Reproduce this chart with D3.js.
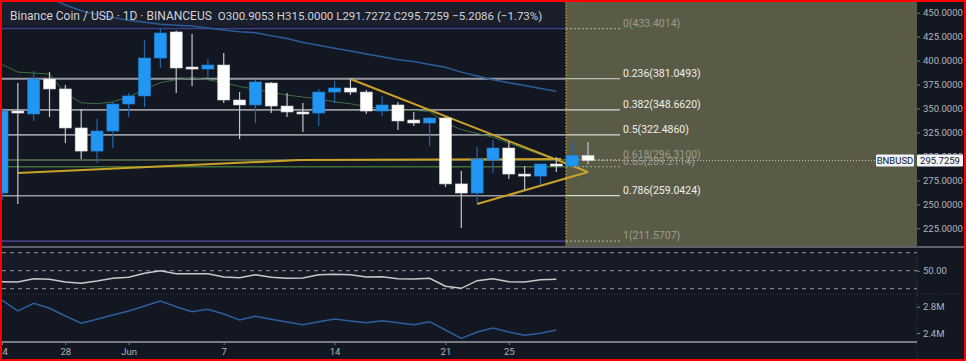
<!DOCTYPE html>
<html>
<head>
<meta charset="utf-8">
<script src="https://cdn.jsdelivr.net/npm/d3@7"></script>
<style>
  body { margin: 0; background: #131722; }
  svg { display: block; font-family: Roboto, "Noto Sans", sans-serif; }
</style>
</head>
<body>
<svg id="chart" width="966" height="361"></svg>
<script>
// daily candles, 24 May .. 30 Jun
var days = ["May 24","May 25","May 26","May 27","May 28","May 29","May 30","May 31",
  "Jun 1","Jun 2","Jun 3","Jun 4","Jun 5","Jun 6","Jun 7","Jun 8","Jun 9","Jun 10",
  "Jun 11","Jun 12","Jun 13","Jun 14","Jun 15","Jun 16","Jun 17","Jun 18","Jun 19",
  "Jun 20","Jun 21","Jun 22","Jun 23","Jun 24","Jun 25","Jun 26","Jun 27","Jun 28",
  "Jun 29","Jun 30"];
var opens  = [261.8,347.4,344.3,380.8,370.4,329.7,305.6,326.5,354.7,363.1,402.7,429.9,393.3,391.2,
  395.4,358.9,353.7,376.6,352.6,346.4,345.3,367.2,371.4,367.2,347.4,353.7,338.0,334.9,340.1,
  271.3,261.8,296.2,308.8,281.6,279.5,292.1,290.0,300.9053];
var highs  = [350.5,376.6,389.1,388.1,374.5,349.5,339.0,356.8,366.2,421.5,433.4,431.5,427.8,401.7,
  407.9,367.2,379.8,377.7,366.2,355.7,370.4,378.7,381.8,369.3,363.1,356.8,346.4,341.1,341.1,
  284.8,309.8,317.1,315.0,290.0,292.1,299.4,315.0,315.0];
var lows   = [254.5,250.3,337.0,341.1,314.0,297.3,293.1,308.8,341.1,351.6,392.3,366.2,373.5,381.8,
  355.7,318.2,334.9,345.3,341.1,325.5,331.8,355.7,364.1,344.3,342.2,327.6,331.8,310.9,268.0,
  225.3,251.4,282.7,276.4,264.9,270.2,283.7,289.0,291.7272];
var closes = [347.4,345.3,380.8,370.4,329.7,305.6,326.5,354.7,363.1,402.7,428.8,392.3,391.2,395.4,
  358.9,353.7,377.7,352.6,346.4,344.3,367.2,371.4,367.2,347.4,353.7,337.0,334.9,340.1,271.3,
  261.8,297.3,308.8,281.6,279.5,292.1,290.0,300.9,295.7259];

// moving averages (index 0.. / 3..)
var maFast = [396,388,387,386,366,356,355,357,362,370,377,380,382,380,377,373,370,367,364,362,
  360,357,355,352,350,348,348,347,335,328,324,320,314,308,302,296];
var maSlowStart = 3;
var maSlow = [466,458,452,448,445,442,440,438,437,436,434,432,430,429,426,423,419,416,413,410,
  407,404,401,399,396,393,388,384,380,377,374,371,368];

// lower panes (index 0..35)
var rsi = [37.8,37.4,41.1,40.4,37.4,36.0,38.6,41.6,42.7,47.1,50.0,46.7,46.7,46.7,43.0,42.2,45.6,
  42.7,41.6,41.9,45.6,46.0,45.6,43.0,43.3,41.1,40.8,41.6,32.7,30.4,38.9,41.1,37.8,37.4,40.0,40.4];
var volOsc = [2.902,2.735,2.852,2.776,2.659,2.548,2.608,2.674,2.735,2.811,2.887,2.800,2.724,2.760,
  2.689,2.598,2.654,2.608,2.567,2.526,2.572,2.613,2.583,2.557,2.587,2.557,2.526,2.572,2.446,
  2.319,2.415,2.476,2.415,2.365,2.395,2.446];

// fibonacci retracement
var fibRatios = [0, 0.236, 0.382, 0.5, 0.618, 0.65, 0.786, 1];
var fibPrices = [433.4014, 381.0493, 348.6620, 322.4860, 296.3100, 289.2114, 259.0424, 211.5707];

// drawn trend lines [index, price]
var goldTrend = [[1, 282.7], [18.8, 296.2], [35.3, 297.3]];
var triUpper = [[22, 380.8], [37, 283.7]];
var triLower = [[30, 250.3], [37, 283.7]];

var priceTicks = [225, 250, 275, 300, 325, 350, 375, 400, 425, 450];
var dateTickIdx = [0, 4, 8, 14, 21, 28, 32];
var dateTickLabels = ["24", "28", "Jun", "7", "14", "21", "25"];

var svg = d3.select("#chart");
var W = 966, H = 361;
var plotR = 917, fibX = 566;
var mainTop = 2, mainBot = 247, rsiBot = 294, volBot = 342;

var x = d3.scaleLinear().domain([0, 37]).range([2, 588]);
var y = d3.scaleLinear().domain([225, 450]).range([228.3, 12.7]);
var yRsi = d3.scaleLinear().domain([30, 70]).range([288.7, 252.7]);
var yVol = d3.scaleLinear().domain([2.4, 2.8]).range([333, 306.7]);

svg.append("rect").attr("width", W).attr("height", H).attr("fill", "#131722");

var defs = svg.append("defs");
defs.append("clipPath").attr("id", "clipMain").append("rect")
  .attr("x", 2).attr("y", mainTop).attr("width", plotR - 2).attr("height", mainBot - mainTop);
defs.append("clipPath").attr("id", "clipLow").append("rect")
  .attr("x", 2).attr("y", mainBot).attr("width", plotR - 2).attr("height", volBot - mainBot);

var main = svg.append("g").attr("clip-path", "url(#clipMain)");

// olive fib background on the right
main.append("rect").attr("x", fibX).attr("y", mainTop)
  .attr("width", plotR - fibX).attr("height", mainBot - mainTop)
  .attr("fill", "#595b47");
// header strip
main.append("rect").attr("x", 2).attr("y", mainTop).attr("width", fibX - 2).attr("height", 24)
  .attr("fill", "#1b1e2b");

var fibStyle = {
  0: { line: "#3c3f85", w: 1.5, bright: false },
  0.236: { line: "#989ba3", w: 1.8, bright: true },
  0.382: { line: "#989ba3", w: 1.8, bright: true },
  0.5: { line: "#989ba3", w: 1.8, bright: true },
  0.618: { line: "#5f7455", w: 1.6, bright: false },
  0.65: { line: "#3f6e36", w: 1.6, bright: false },
  0.786: { line: "#989ba3", w: 1.6, bright: true },
  1: { line: "#4a3b80", w: 1.6, bright: false }
};
var fib = fibRatios.map(function (r, i) { return { r: r, p: fibPrices[i] }; });

main.selectAll("line.fibfull").data(fib).enter().append("line")
  .attr("x1", 2).attr("x2", fibX)
  .attr("y1", function (d) { return y(d.p); }).attr("y2", function (d) { return y(d.p); })
  .attr("stroke", function (d) { return fibStyle[d.r].line; })
  .attr("stroke-width", function (d) { return fibStyle[d.r].w; });

main.selectAll("line.fibshort").data(fib).enter().append("line")
  .attr("x1", fibX).attr("x2", 620)
  .attr("y1", function (d) { return y(d.p); }).attr("y2", function (d) { return y(d.p); })
  .attr("stroke", function (d) { return fibStyle[d.r].bright ? "#d8d8d0" : "#a4a594"; })
  .attr("stroke-width", 1.2)
  .attr("stroke-dasharray", function (d) { return fibStyle[d.r].bright ? null : "2,2"; });

main.selectAll("text.fib").data(fib).enter().append("text")
  .attr("x", 623).attr("y", function (d) { return y(d.p) - 2; })
  .attr("font-size", 10.5)
  .attr("fill", function (d) { return fibStyle[d.r].bright ? "#f0f0ea" : "#9c9d8c"; })
  .text(function (d) { return d.r + "(" + d.p.toFixed(4) + ")"; });

// fib anchor vertical
main.append("line").attr("x1", fibX).attr("x2", fibX).attr("y1", mainTop).attr("y2", mainBot)
  .attr("stroke", "#c9a227").attr("stroke-width", 1).attr("stroke-dasharray", "2,1");

// moving averages
var lineP = d3.line().x(function (d) { return x(d[0]); }).y(function (d) { return y(d[1]); });
main.append("path")
  .attr("d", lineP(maFast.map(function (v, i) { return [i, v]; })))
  .attr("fill", "none").attr("stroke", "#3f7040").attr("stroke-width", 1);
main.append("path")
  .attr("d", lineP(maSlow.map(function (v, i) { return [i + maSlowStart, v]; })))
  .attr("fill", "none").attr("stroke", "#2a5d9a").attr("stroke-width", 1.5);

// trend lines
[goldTrend, triUpper, triLower].forEach(function (t) {
  main.append("path").attr("d", lineP(t))
    .attr("fill", "none").attr("stroke", "#c9a227").attr("stroke-width", 2);
});

// current price line
var last = closes[closes.length - 1];
main.append("line").attr("x1", x(37) + 7).attr("x2", 876)
  .attr("y1", y(last)).attr("y2", y(last))
  .attr("stroke", "#c8c8c0").attr("stroke-width", 1).attr("stroke-dasharray", "1,2");

// candles
var candles = days.map(function (d, i) {
  return { i: i, day: d, o: opens[i], h: highs[i], l: lows[i], c: closes[i] };
});
var cg = main.selectAll("g.candle").data(candles).enter().append("g").attr("class", "candle");
cg.append("line")
  .attr("x1", function (d) { return x(d.i); }).attr("x2", function (d) { return x(d.i); })
  .attr("y1", function (d) { return y(d.h); }).attr("y2", function (d) { return y(d.l); })
  .attr("stroke", function (d) { return d.c >= d.o ? "#2467a8" : "#c4c6cc"; })
  .attr("stroke-width", 1.2);
cg.append("rect")
  .attr("x", function (d) { return x(d.i) - 6; }).attr("width", 12)
  .attr("y", function (d) { return y(Math.max(d.o, d.c)); })
  .attr("height", function (d) { return Math.max(2, Math.abs(y(d.o) - y(d.c))); })
  .attr("fill", function (d) { return d.c >= d.o ? "#2196f3" : "#ffffff"; })
  .attr("stroke", function (d) { return d.c >= d.o ? "#1e7fd0" : "#d0d0d0"; })
  .attr("stroke-width", 0.6);

// header
var hdr = svg.append("text").attr("x", 10).attr("y", 19.5).attr("font-size", 12).attr("fill", "#d1d4dc");
hdr.append("tspan").text("Binance Coin / USD · 1D · BINANCEUS");
hdr.append("tspan").attr("dx", 6).attr("font-size", 11.5)
  .text("O" + opens[37].toFixed(4) + " H" + highs[37].toFixed(4) + " L" + lows[37].toFixed(4) +
        " C" + last.toFixed(4) + " \u22125.2086 (\u22121.73%)");

// lower panes
var low = svg.append("g").attr("clip-path", "url(#clipLow)");
low.append("rect").attr("x", 2).attr("y", yRsi(70)).attr("width", plotR - 2)
  .attr("height", yRsi(30) - yRsi(70)).attr("fill", "#171b27");
low.selectAll("line.band").data([70, 50, 30]).enter().append("line")
  .attr("x1", 2).attr("x2", plotR)
  .attr("y1", function (d) { return yRsi(d); }).attr("y2", function (d) { return yRsi(d); })
  .attr("stroke", "#9598a1").attr("stroke-width", 1).attr("stroke-dasharray", "4,4");
low.append("path")
  .attr("d", d3.line().x(function (d, i) { return x(i); }).y(function (d) { return yRsi(d); })(rsi))
  .attr("fill", "none").attr("stroke", "#c9c9c9").attr("stroke-width", 1.5);
low.append("path")
  .attr("d", d3.line().x(function (d, i) { return x(i); }).y(function (d) { return yVol(d); })(volOsc))
  .attr("fill", "none").attr("stroke", "#2c5e9e").attr("stroke-width", 1.5);

// pane separators
svg.append("line").attr("x1", 2).attr("x2", W - 2).attr("y1", mainBot).attr("y2", mainBot)
  .attr("stroke", "#5d606b").attr("stroke-width", 2);
svg.append("line").attr("x1", 2).attr("x2", W - 2).attr("y1", rsiBot).attr("y2", rsiBot)
  .attr("stroke", "#3a3e4a").attr("stroke-width", 1).attr("stroke-dasharray", "1,2");
svg.append("line").attr("x1", 2).attr("x2", plotR).attr("y1", volBot).attr("y2", volBot)
  .attr("stroke", "#787b86").attr("stroke-width", 2);
svg.append("line").attr("x1", plotR).attr("x2", plotR).attr("y1", mainBot).attr("y2", H - 2)
  .attr("stroke", "#3a3e4a").attr("stroke-width", 1).attr("stroke-dasharray", "1,2");

// axes
function styleAxis(g) {
  g.select(".domain").remove();
  g.selectAll(".tick line").attr("stroke", "#787b86");
  g.selectAll(".tick text").attr("fill", "#b2b5be").attr("font-size", 9.5)
    .attr("font-family", "Roboto, 'Noto Sans', sans-serif");
}
svg.append("g").attr("transform", "translate(" + plotR + ",0)")
  .call(d3.axisRight(y).tickValues(priceTicks).tickSize(3).tickPadding(3)
    .tickFormat(function (d) { return d.toFixed(4); }))
  .call(styleAxis);
svg.append("g").attr("transform", "translate(" + plotR + ",0)")
  .call(d3.axisRight(yRsi).tickValues([50]).tickSize(3).tickPadding(3)
    .tickFormat(function (d) { return d.toFixed(2); }))
  .call(styleAxis);
svg.append("g").attr("transform", "translate(" + plotR + ",0)")
  .call(d3.axisRight(yVol).tickValues([2.4, 2.8]).tickSize(3).tickPadding(3)
    .tickFormat(function (d) { return d.toFixed(1) + "M"; }))
  .call(styleAxis);
svg.append("g").attr("transform", "translate(0," + volBot + ")")
  .call(d3.axisBottom(x).tickValues(dateTickIdx).tickSize(3).tickPadding(3)
    .tickFormat(function (d, i) { return dateTickLabels[i]; }))
  .call(styleAxis);

// last price labels
var ly = y(last);
svg.append("rect").attr("x", 876).attr("y", ly - 6).attr("width", 38).attr("height", 12)
  .attr("fill", "#f0f3fa").attr("rx", 1);
svg.append("text").attr("x", 895).attr("y", ly + 3.5).attr("text-anchor", "middle")
  .attr("font-size", 9.5).attr("fill", "#131722").text("BNBUSD");
svg.append("rect").attr("x", plotR).attr("y", ly - 6).attr("width", 46).attr("height", 12)
  .attr("fill", "#f0f3fa").attr("rx", 1);
svg.append("text").attr("x", plotR + 23).attr("y", ly + 3.5).attr("text-anchor", "middle")
  .attr("font-size", 9.5).attr("fill", "#131722").text(last.toFixed(4));

// red frame
svg.append("rect").attr("x", 1).attr("y", 1).attr("width", W - 2).attr("height", H - 2)
  .attr("fill", "none").attr("stroke", "#ff0000").attr("stroke-width", 2);
</script>
</body>
</html>
